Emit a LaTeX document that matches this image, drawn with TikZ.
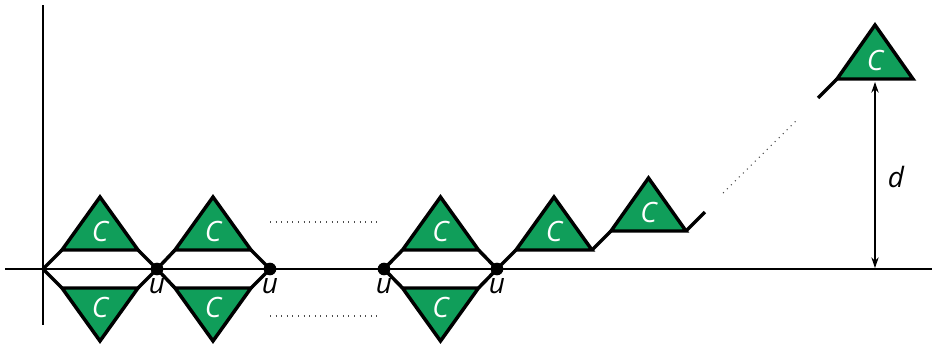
\documentclass[tikz,border=0pt]{standalone}
\usepackage{fontspec}
\setsansfont{Open Sans}
\usetikzlibrary{arrows.meta}
\definecolor{cgreen}{RGB}{16,158,90}

\begin{document}
\begin{tikzpicture}[
        x=0.75pt, y=-0.75pt,
        >={Stealth[length=8pt, width=5.5pt]},
        axis/.style={line width=0.9pt},
        link/.style={line width=2.6pt},
        tri/.style={link, fill=cgreen},
        lbl/.style={font=\sffamily\itshape\fontsize{21}{24}\selectfont, inner sep=0pt},
        clbl/.style={lbl, text=white},
        vtx/.style={circle, fill, inner sep=0pt, minimum size=9.5pt},
        gap/.style={line width=0.8pt, dash pattern=on 0.8pt off 3.4pt, black!70}
    ]
    \useasboundingbox (0,0) rectangle (936,344);

    % axes
    \coordinate (xa) at (5,269);
    \coordinate (xb) at (932,269);
    \coordinate (ya) at (43,5);
    \coordinate (yb) at (43,325);
    \draw[axis] (xa) -- (xb);
    \draw[axis] (ya) -- (yb);

    % cut vertices
    \coordinate (L1) at (43,269);
    \node[vtx] (u1) at (157,269) {};
    \node[vtx] (u2) at (270,269) {};
    \node[vtx] (u3) at (384,269) {};
    \node[vtx] (u4) at (497,269) {};

    % diamonds
    \foreach \c/\n in {100/1, 213/2, 440.5/3} {
        \coordinate (a\n) at (\c-38,250);
        \coordinate (b\n) at (\c+38,250);
        \coordinate (p\n) at (\c-38,288);
        \coordinate (q\n) at (\c+38,288);
        \filldraw[tri] (a\n) -- (\c,197) -- (b\n) -- cycle;
        \filldraw[tri] (p\n) -- (\c,341) -- (q\n) -- cycle;
        \node[clbl] (cu\n) at (\c,231) {C};
        \node[clbl] (cd\n) at (\c,307) {C};
    }
    \foreach \l/\r/\n in {L1/u1/1, u1/u2/2, u3/u4/3} {
        \draw[link] (\l.center) -- (a\n);
        \draw[link] (\l.center) -- (p\n);
        \draw[link] (\r.center) -- (b\n);
        \draw[link] (\r.center) -- (q\n);
    }

    % rising chain
    \coordinate (a4) at (516,250);
    \coordinate (b4) at (592,250);
    \coordinate (a5) at (611,231);
    \coordinate (b5) at (686,231);
    \coordinate (e5) at (705,212);
    \coordinate (s6) at (818,98);
    \coordinate (a6) at (837,79);
    \coordinate (b6) at (913,79);
    \filldraw[tri] (a4) -- (554,197) -- (b4) -- cycle;
    \filldraw[tri] (a5) -- (648.5,178) -- (b5) -- cycle;
    \filldraw[tri] (a6) -- (875,25) -- (b6) -- cycle;
    \node[clbl] (c4) at (554,231) {C};
    \node[clbl] (c5) at (648.5,212) {C};
    \node[clbl] (c6) at (875,60) {C};
    \draw[link] (u4.center) -- (a4);
    \draw[link] (b4) -- (a5);
    \draw[link] (b5) -- (e5);
    \draw[link] (s6) -- (a6);

    % gaps
    \coordinate (g1) at (723,193);
    \coordinate (g2) at (797,120);
    \draw[gap] (g1) -- (g2);
    \coordinate (h1) at (270,222);
    \coordinate (h2) at (381,222);
    \coordinate (h3) at (270,316);
    \coordinate (h4) at (381,316);
    \draw[gap] (h1) -- (h2);
    \draw[gap] (h3) -- (h4);

    % height
    \coordinate (d1) at (875,82);
    \coordinate (d2) at (875,268);
    \draw[<->, line width=0.8pt] (d1) -- (d2);
    \node[lbl] (d) at (896,177) {d};

    % labels
    \foreach \n in {1,...,4}
        \node[lbl, below=2pt] (lu\n) at (u\n.south) {u};
\end{tikzpicture}
\end{document}
